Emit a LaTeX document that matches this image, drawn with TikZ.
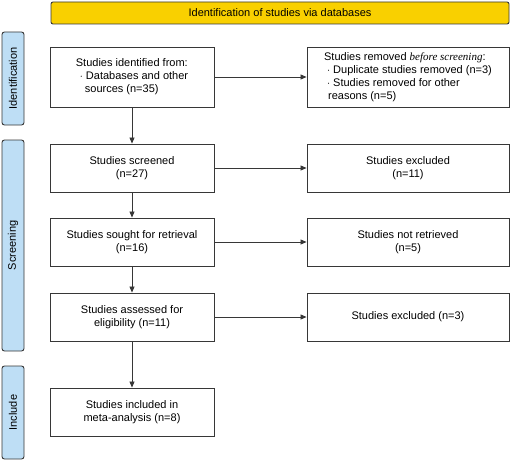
\documentclass[tikz,border=0pt]{standalone}
\usepackage{fontspec}
\setmainfont{Liberation Sans}
\newfontfamily\serifface{Liberation Serif}
\usetikzlibrary{arrows.meta}
\definecolor{bargold}{RGB}{249,208,0}
\definecolor{sideblue}{RGB}{190,222,245}
\definecolor{edgegray}{RGB}{55,55,55}
\begin{document}
\begin{tikzpicture}[x=1pt, y=-1pt, font=\fontsize{11}{13}\selectfont,
    stagebox/.style={rectangle, draw=edgegray, line width=0.9pt, inner sep=0pt, text centered},
    sidebox/.style={rectangle, rounded corners=2.5pt, draw=edgegray, line width=0.9pt, fill=sideblue, minimum width=22pt, inner sep=0pt},
    flow/.style={draw=edgegray, line width=0.8pt, -{Triangle[length=6pt, width=5pt]}}]
    \useasboundingbox (0,0) rectangle (510,460);
    % header and phase labels
    \node [rectangle, rounded corners=2pt, draw=edgegray, line width=0.9pt, fill=bargold, minimum width=458pt, minimum height=22pt, inner sep=0pt] (header) at (280,13) {Identification of studies via databases};
    \node [sidebox, minimum height=93pt] (identside) at (13,78.5) {};
    \node [rotate=90] at (identside) {Identification};
    \node [sidebox, minimum height=211pt] (screenside) at (13,245.5) {};
    \node [rotate=90] at (screenside) {Screening};
    \node [sidebox, minimum height=93pt] (includeside) at (13,412.5) {};
    \node [rotate=90] at (includeside) {Include};
    % left column
    \node [stagebox, minimum width=164pt, minimum height=60pt, align=left] (identified) at (132,77) {Studies identified from:\\\hspace{4pt}$\cdot$ Databases and other\\\hspace{9pt}sources (n=35)};
    \node [stagebox, minimum width=164pt, minimum height=48pt, align=center] (screened) at (132,168) {Studies screened\\(n=27)};
    \node [stagebox, minimum width=164pt, minimum height=48pt, align=center] (sought) at (132,242) {Studies sought for retrieval\\(n=16)};
    \node [stagebox, minimum width=164pt, minimum height=48pt, align=center] (assessed) at (132,317) {Studies assessed for\\eligibility (n=11)};
    \node [stagebox, minimum width=164pt, minimum height=48pt, align=center] (included) at (132,412) {Studies included in\\meta-analysis (n=8)};
    % right column
    \node [stagebox, minimum width=202pt, minimum height=60pt, align=left] (removed) at (408,77) {Studies removed {\serifface\itshape before screening}:\\\hspace{3pt}$\cdot$ Duplicate studies removed (n=3)\\\hspace{3pt}$\cdot$ Studies removed for other\\\hspace{4pt}reasons (n=5)};
    \node [stagebox, minimum width=202pt, minimum height=48pt, align=center] (excluded) at (408,168) {Studies excluded\\(n=11)};
    \node [stagebox, minimum width=202pt, minimum height=48pt, align=center] (notretrieved) at (408,242) {Studies not retrieved\\(n=5)};
    \node [stagebox, minimum width=202pt, minimum height=48pt, align=center] (ineligible) at (408,317) {Studies excluded (n=3)};
    % connectors
    \draw [flow] (identified) -- (screened);
    \draw [flow] (screened) -- (sought);
    \draw [flow] (sought) -- (assessed);
    \draw [flow] (assessed) -- (included);
    \draw [flow] (identified) -- (removed);
    \draw [flow] (screened) -- (excluded);
    \draw [flow] (sought) -- (notretrieved);
    \draw [flow] (assessed) -- (ineligible);
\end{tikzpicture}
\end{document}
